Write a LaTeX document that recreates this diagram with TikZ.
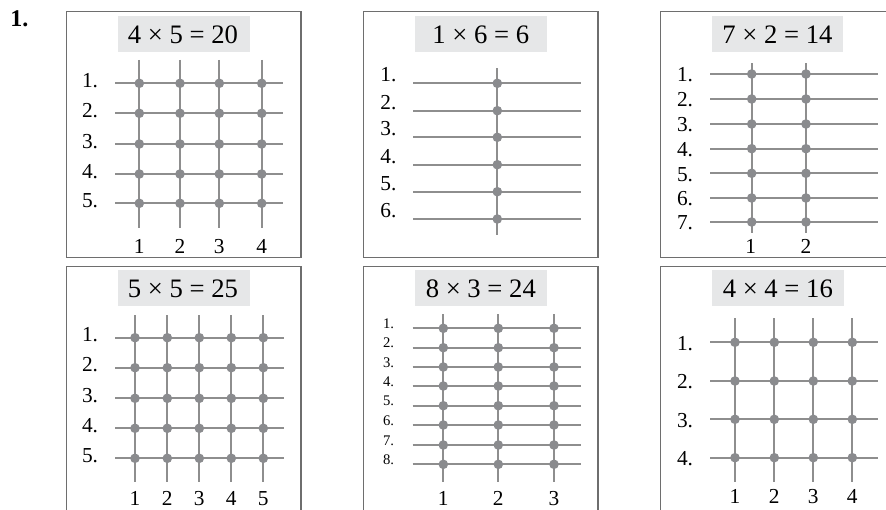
\documentclass[tikz,border=0pt]{standalone}
\usepackage{fontspec}
\setmainfont{Liberation Serif}
\definecolor{framec}{HTML}{6E6E6E}
\definecolor{linec}{HTML}{8E8E8E}
\definecolor{dotc}{HTML}{8A8B8E}
\definecolor{hdrc}{HTML}{E6E7E8}
\begin{document}
\begin{tikzpicture}[x=0.75pt,y=-0.75pt,
  frame/.style={draw=framec,line width=1pt},
  hdr/.style={fill=hdrc},
  gl/.style={draw=linec,line width=1.6pt},
  dotm/.style={fill=dotc},
  title/.style={anchor=base,inner sep=0,font=\fontsize{20}{24}\selectfont},
  rowlab/.style={anchor=base east,inner sep=0,font=\fontsize{16}{19}\selectfont},
  smallrow/.style={anchor=base east,inner sep=0,font=\fontsize{11}{13}\selectfont},
  collab/.style={anchor=base,inner sep=0,font=\fontsize{16}{19}\selectfont}]
\useasboundingbox (0,0) rectangle (886,510);
\clip (0,0) rectangle (886,510);

\node[anchor=base west,inner sep=0,font=\bfseries\fontsize{18}{20}\selectfont] (num) at (10,26.7) {1.};

% ---------- Panel 1: 4 x 5 ----------
\draw[frame] (66.7,11.7) rectangle (301,257.3);
\fill[hdr] (118.3,16) rectangle (250,51.7);
\node[title] (t1) at (183,43.7) {4 × 5 = 20};
\foreach \x in {139.3,180,219.3,261.7} \draw[gl] (\x,60) -- (\x,228.3);
\foreach \y in {83.3,113.3,144,174,203.3} \draw[gl] (115,\y) -- (283.3,\y);
\foreach \x in {139.3,180,219.3,261.7} \foreach \y in {83.3,113.3,144,174,203.3} \fill[dotm] (\x,\y) circle (3.6pt);
\foreach \y [count=\i] in {83.3,113.3,144,174,203.3} \node[rowlab] (p1r\i) at (98.3,\y+4) {\i.};
\foreach \x [count=\i] in {139.3,180,219.3,261.7} \node[collab] (p1c\i) at (\x,253.3) {\i};

% ---------- Panel 2: 1 x 6 ----------
\draw[frame] (363.5,11.7) rectangle (598,257.3);
\fill[hdr] (415,16) rectangle (546.7,51.7);
\node[title] (t2) at (480.8,43.7) {1 × 6 = 6};
\draw[gl] (497.3,68.3) -- (497.3,235);
\foreach \y in {83.3,110.7,137.3,164.7,191.7,219} \draw[gl] (413.3,\y) -- (581,\y);
\foreach \y in {83.3,110.7,137.3,164.7,191.7,219} \fill[dotm] (497.3,\y) circle (3.6pt);
\foreach \y [count=\i] in {83.3,110.7,137.3,164.7,191.7,219} \node[rowlab] (p2r\i) at (396.7,\y-1.5) {\i.};

% ---------- Panel 3: 7 x 2 ----------
\draw[frame] (660.7,11.7) rectangle (900,257.3);
\fill[hdr] (711.7,16) rectangle (843.3,51.7);
\node[title] (t3) at (777.5,43.7) {7 × 2 = 14};
\foreach \x in {751.7,806} \draw[gl] (\x,63.3) -- (\x,233.3);
\foreach \y in {74,99,124,148.7,173.3,198,222} \draw[gl] (710,\y) -- (878.3,\y);
\foreach \x in {751.7,806} \foreach \y in {74,99,124,148.7,173.3,198,222} \fill[dotm] (\x,\y) circle (3.6pt);
\foreach \y [count=\i] in {74,99,124,148.7,173.3,198,222} \node[rowlab] (p3r\i) at (693.3,\y+7.7) {\i.};
\foreach \x [count=\i] in {750.7,806} \node[collab] (p3c\i) at (\x,253.3) {\i};

% ---------- Panel 4: 5 x 5 ----------
\draw[frame] (66.7,266.3) rectangle (301,520);
\fill[hdr] (118.3,270) rectangle (250,305.7);
\node[title] (t4) at (183,297.7) {5 × 5 = 25};
\foreach \x in {135,167.3,199.3,231.3,263.3} \draw[gl] (\x,315) -- (\x,481.7);
\foreach \y in {337.7,367.7,398.3,428.3,458.3} \draw[gl] (115,\y) -- (284,\y);
\foreach \x in {135,167.3,199.3,231.3,263.3} \foreach \y in {337.7,367.7,398.3,428.3,458.3} \fill[dotm] (\x,\y) circle (3.6pt);
\foreach \y [count=\i] in {337.7,367.7,398.3,428.3,458.3} \node[rowlab] (p4r\i) at (98.3,\y+4) {\i.};
\foreach \x [count=\i] in {135,167.3,199.3,231.3,263.3} \node[collab] (p4c\i) at (\x,505.7) {\i};

% ---------- Panel 5: 8 x 3 ----------
\draw[frame] (363.5,266.3) rectangle (598,520);
\fill[hdr] (415,270) rectangle (546.7,305.7);
\node[title] (t5) at (480.8,297.7) {8 × 3 = 24};
\foreach \x in {443.3,498.3,554} \draw[gl] (\x,314.3) -- (\x,481.7);
\foreach \y in {328.3,347.7,367,386,405.7,425,445,464.3} \draw[gl] (412.7,\y) -- (581,\y);
\foreach \x in {443.3,498.3,554} \foreach \y in {328.3,347.7,367,386,405.7,425,445,464.3} \fill[dotm] (\x,\y) circle (3.6pt);
\foreach \y [count=\i] in {328.3,347.7,367,386,405.7,425,445,464.3} \node[smallrow] (p5r\i) at (394.3,\y) {\i.};
\foreach \x [count=\i] in {443.3,498.3,554} \node[collab] (p5c\i) at (\x,505) {\i};

% ---------- Panel 6: 4 x 4 ----------
\draw[frame] (660.7,266.3) rectangle (900,520);
\fill[hdr] (711.7,270) rectangle (844,305.7);
\node[title] (t6) at (777.8,297.7) {4 × 4 = 16};
\foreach \x in {735,774.3,813.3,852.3} \draw[gl] (\x,318.3) -- (\x,481.7);
\foreach \y in {342.3,381,419.3,457.7} \draw[gl] (710,\y) -- (878.3,\y);
\foreach \x in {735,774.3,813.3,852.3} \foreach \y in {342.3,381,419.3,457.7} \fill[dotm] (\x,\y) circle (3.6pt);
\foreach \y [count=\i] in {342.3,381,419.3,457.7} \node[rowlab] (p6r\i) at (693.3,\y+7.7) {\i.};
\foreach \x [count=\i] in {735,774.3,813.3,852.3} \node[collab] (p6c\i) at (\x,503.3) {\i};
\end{tikzpicture}
\end{document}
